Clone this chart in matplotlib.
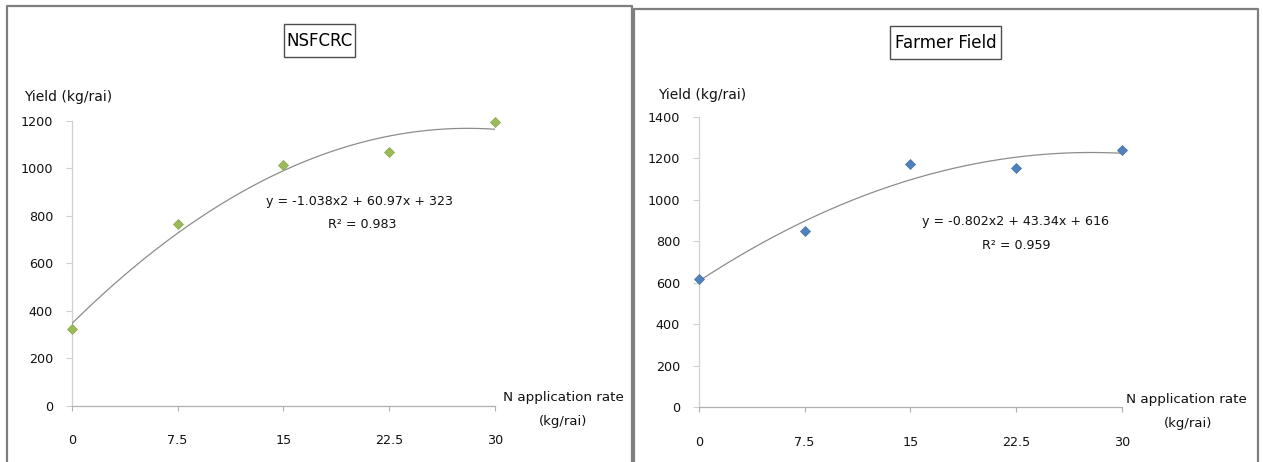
import numpy as np
import matplotlib
matplotlib.use("Agg")
import matplotlib.pyplot as plt
from matplotlib.lines import Line2D
from matplotlib.patches import Rectangle

plt.rcParams['font.family'] = ['DejaVu Sans']

# data
n_rate = [0, 7.5, 15, 22.5, 30]
n_rate_labels = ['0', '7.5', '15', '22.5', '30']
yield_nsfcrc = [324, 764, 1012, 1068, 1194]
yield_farmer = [619, 849, 1172, 1151, 1238]

titles = ['NSFCRC', 'Farmer Field']
equations = ['y = -1.038x2 + 60.97x + 323', 'y = -0.802x2 + 43.34x + 616']
r2_texts = ['R\u00b2 = 0.983', 'R\u00b2 = 0.959']
y_max = [1200, 1400]
marker_colors = ['#9bbb59', '#4f81bd']
marker_edges = ['#86a64a', '#44719f']

W, H = 1263, 462
fig = plt.figure(figsize=(W / 100, H / 100), dpi=100)


def fx(x):
    return x / W


def fy(y):
    return 1 - y / H


# panel frames (bottom edge is cut off in the original)
for (x0, x1, top) in [(6.5, 631.7, 6), (634.3, 1257.7, 8.5)]:
    fig.add_artist(Line2D([fx(x0), fx(x0), fx(x1), fx(x1)],
                          [fy(470), fy(top), fy(top), fy(470)],
                          color='#7f7f7f', lw=1.6, transform=fig.transFigure))

# axes boxes in pixels: (left, right, top, bottom)
boxes = [(71.8, 494.8, 120.7, 406.0), (698.8, 1121.7, 116.7, 407.3)]
series = [yield_nsfcrc, yield_farmer]

# text / box positions in pixels
title_boxes = [(283.5, 354.8, 24, 57.3), (890, 1001.4, 26, 59.3)]
ylabel_pos = [(24, 97), (658, 94.7)]
eq_pos = [((359, 201.5), (362, 225)), ((1016, 221.7), (1016, 246))]
xlab_pos = [((503, 398), (563, 422)), ((1126, 399), (1188, 424))]

text_color = '#111111'

for i in range(2):
    l, r, t, b = boxes[i]
    ax = fig.add_axes([fx(l), fy(b), (r - l) / W, (b - t) / H])
    ax.set_xlim(0, 30)
    ax.set_ylim(0, y_max[i])
    for s in ['top', 'right']:
        ax.spines[s].set_visible(False)
    ax.spines['left'].set_color('#d0d0d0')
    ax.spines['bottom'].set_color('#b0b0b0')
    ax.spines['left'].set_linewidth(0.9)
    ax.spines['bottom'].set_linewidth(0.9)
    ax.spines['left'].set_zorder(0)

    ax.set_xticks(n_rate)
    ax.set_xticklabels(n_rate_labels)
    ax.set_yticks(np.arange(0, y_max[i] + 1, 200))
    ax.tick_params(axis='x', direction='out', length=3.5, width=0.8,
                   color='#b0b0b0', pad=17, labelsize=9.2, labelcolor=text_color)
    ax.tick_params(axis='y', direction='out', length=4.5, width=0.8,
                   color='#d0d0d0', pad=9, labelsize=9.2, labelcolor=text_color)

    # polynomial trendline (order 2) fitted to the points
    coef = np.polyfit(n_rate, series[i], 2)
    xs = np.linspace(0, 30, 200)
    ax.plot(xs, np.polyval(coef, xs), color='#8c8c8c', lw=0.9, zorder=2)
    ax.plot(n_rate, series[i], linestyle='none', marker='D', markersize=5,
            color=marker_colors[i], markeredgecolor=marker_edges[i],
            markeredgewidth=0.5, zorder=3, clip_on=False)

    # title box
    bx0, bx1, by0, by1 = title_boxes[i]
    fig.add_artist(Rectangle((fx(bx0), fy(by1)), (bx1 - bx0) / W,
                             (by1 - by0) / H, transform=fig.transFigure,
                             fc='white', ec='#4d4d4d', lw=1.0))
    fig.text(fx((bx0 + bx1) / 2), fy((by0 + by1) / 2 + 0.5), titles[i],
             ha='center', va='center', fontsize=12, color='black')

    fig.text(fx(ylabel_pos[i][0]), fy(ylabel_pos[i][1]), 'Yield (kg/rai)',
             ha='left', va='center', fontsize=10, color=text_color)

    (ex, ey), (rx, ry) = eq_pos[i]
    fig.text(fx(ex), fy(ey), equations[i], ha='center', va='center',
             fontsize=9.1, color=text_color)
    fig.text(fx(rx), fy(ry), r2_texts[i], ha='center', va='center',
             fontsize=9.1, color=text_color)

    (nx, ny), (kx, ky) = xlab_pos[i]
    fig.text(fx(nx), fy(ny), 'N application rate', ha='left', va='center',
             fontsize=9.7, color=text_color)
    fig.text(fx(kx), fy(ky), '(kg/rai)', ha='center', va='center',
             fontsize=9.5, color=text_color)

fig.savefig('out.png', dpi=100, facecolor='white')
